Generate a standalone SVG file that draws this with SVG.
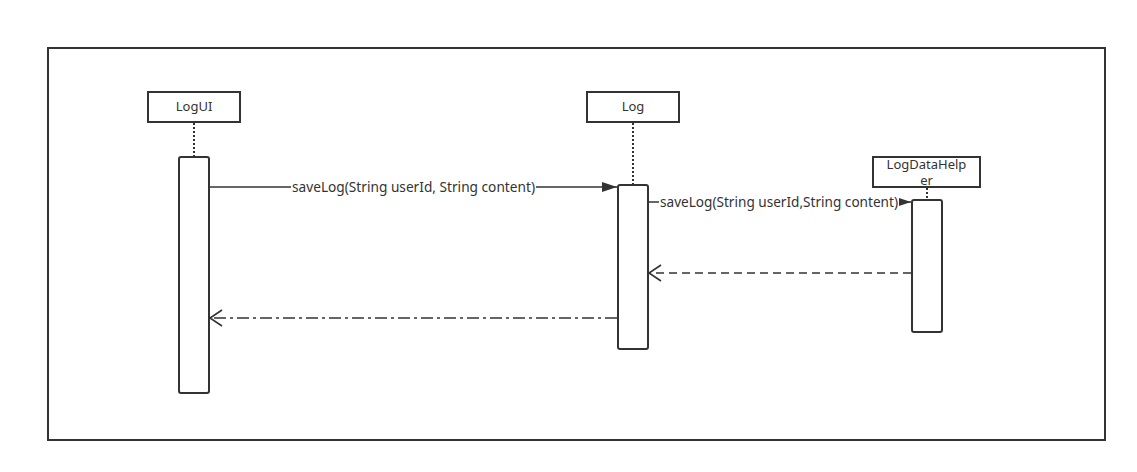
<svg xmlns="http://www.w3.org/2000/svg" width="1137" height="472" viewBox="0 0 1137 472">
<style>
.box{fill:#fff;stroke:#333;stroke-width:2}
.act{fill:#fff;stroke:#333;stroke-width:2}
.life{stroke:#333;stroke-width:2;stroke-dasharray:2 2;fill:none}
.msg{stroke:#333;stroke-width:1.6;fill:none}
.t{font-family:"Noto Sans","DejaVu Sans",sans-serif;font-size:13px;fill:#333}
.lbl{font-family:"Noto Sans","DejaVu Sans",sans-serif;font-size:13.5px;fill:#333}
</style>
<defs>
<marker id="fill" markerWidth="16" markerHeight="10" refX="15" refY="5" orient="auto" markerUnits="userSpaceOnUse">
<path d="M0,0 L15,5 L0,10 Z" fill="#333"/>
</marker>
<marker id="open" markerWidth="16" markerHeight="18" refX="13" refY="9" orient="auto" markerUnits="userSpaceOnUse">
<path d="M1,1 L13,9 L1,17" fill="none" stroke="#333" stroke-width="1.6"/>
</marker>
</defs>
<rect width="1137" height="472" fill="#fff"/>
<rect x="48" y="48" width="1057" height="392" fill="none" stroke="#333" stroke-width="2"/>
<g id="LogUI">
<rect class="box" x="148" y="92" width="92" height="30"/>
<text class="t" x="194" y="111" text-anchor="middle">LogUI</text>
<line class="life" x1="194" y1="123" x2="194" y2="157"/>
<rect class="act" x="179" y="157" width="30" height="236" rx="2"/>
</g>
<g id="Log">
<rect class="box" x="587" y="92" width="92" height="30"/>
<text class="t" x="633" y="111" text-anchor="middle">Log</text>
<line class="life" x1="633" y1="123" x2="633" y2="185"/>
<rect class="act" x="618" y="185" width="30" height="164" rx="2"/>
</g>
<g id="LogDataHelper">
<rect class="box" x="873" y="157" width="107" height="30"/>
<text class="t" x="926.5" y="169" text-anchor="middle">LogDataHelp</text>
<text class="t" x="926.5" y="185" text-anchor="middle">er</text>
<line class="life" x1="927" y1="188" x2="927" y2="200"/>
<rect class="act" x="912" y="200" width="30" height="132" rx="2"/>
</g>
<g id="connectors">
<line class="msg" x1="210" y1="187" x2="617" y2="187" marker-end="url(#fill)"/>
<rect x="291" y="180" width="245" height="15" fill="#fff"/>
<text class="lbl" x="292" y="192" textLength="243" lengthAdjust="spacingAndGlyphs">saveLog(String userId, String content)</text>
<line class="msg" x1="649" y1="202" x2="911" y2="202" marker-end="url(#fill)"/>
<rect x="659" y="195" width="240" height="15" fill="#fff"/>
<text class="lbl" x="660" y="207" textLength="238" lengthAdjust="spacingAndGlyphs">saveLog(String userId,String content)</text>
<line class="msg" x1="911" y1="273" x2="649" y2="273" stroke-dasharray="8 5" marker-end="url(#open)"/>
<line class="msg" x1="617" y1="318" x2="210" y2="318" stroke-dasharray="12 4 3 4" marker-end="url(#open)"/>
</g>
</svg>
